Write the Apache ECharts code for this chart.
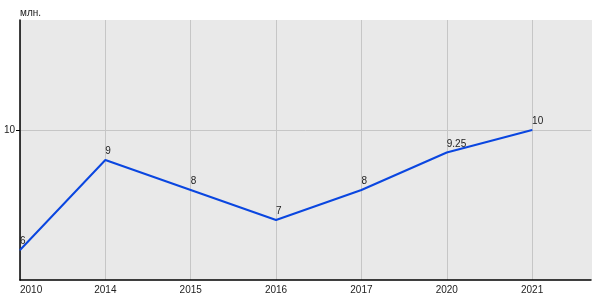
<!DOCTYPE html>
<html><head><meta charset="utf-8">
<script src="https://cdn.jsdelivr.net/npm/echarts@6/dist/echarts.min.js"></script>
<style>html,body{margin:0;padding:0;background:#fff}#c{width:600px;height:300px}</style>
</head><body><div id="c"></div>
<script>
const categories = ['2010','2014','2015','2016','2017','2020','2021'];
const values = [6, 9, 8, 7, 8, 9.25, 10];
const yTickLabels = [10];
const unitName = 'млн.';

const chart = echarts.init(document.getElementById('c'), null, {renderer:'canvas'});
const bg = '#e9e9e9', gridC = '#c6c6c6';
chart.setOption({
  animation:false,
  grid:{left:20, right:9, top:20, bottom:20, show:true, backgroundColor:bg, borderWidth:0},
  xAxis:{
    type:'value', min:0, max:6.69, interval:1,
    axisLine:{show:true, onZero:false, lineStyle:{color:'#000', width:1.5}},
    axisTick:{show:false},
    axisLabel:{fontFamily:'Liberation Sans, Arial', fontSize:10, color:'#222', margin:5,
      alignMinLabel:'left',
      formatter:v => Number.isInteger(v) && categories[v] !== undefined ? categories[v] : ''},
    splitLine:{show:true, lineStyle:{color:[gridC,gridC,gridC,gridC,gridC,gridC,gridC,bg], width:1}}
  },
  yAxis:{
    type:'value', min:5, max:13.667, interval:5,
    name:unitName, nameLocation:'end', nameGap:2,
    nameTextStyle:{fontFamily:'Liberation Sans, Arial', fontSize:10, color:'#222', align:'left'},
    axisLine:{show:true, lineStyle:{color:'#000', width:1.5}},
    axisTick:{show:true, length:4, customValues:yTickLabels, lineStyle:{color:'#000'}},
    axisLabel:{fontFamily:'Liberation Sans, Arial', fontSize:10, color:'#222', margin:5,
      customValues:yTickLabels,
      formatter:v => yTickLabels.includes(v) ? String(v) : ''},
    splitLine:{show:true, lineStyle:{color:[gridC,gridC,bg], width:1}}
  },
  series:[{
    type:'line',
    data:values.map((v,i)=>[i,v]),
    symbol:'circle', symbolSize:1, showSymbol:true,
    itemStyle:{color:'#0a46e0'},
    lineStyle:{color:'#0a46e0', width:2},
    label:{show:true, position:'top', align:'left', distance:3,
      fontFamily:'Liberation Sans, Arial', fontSize:10, color:'#222',
      formatter:p => String(p.value[1])}
  }]
});
</script></body></html>
